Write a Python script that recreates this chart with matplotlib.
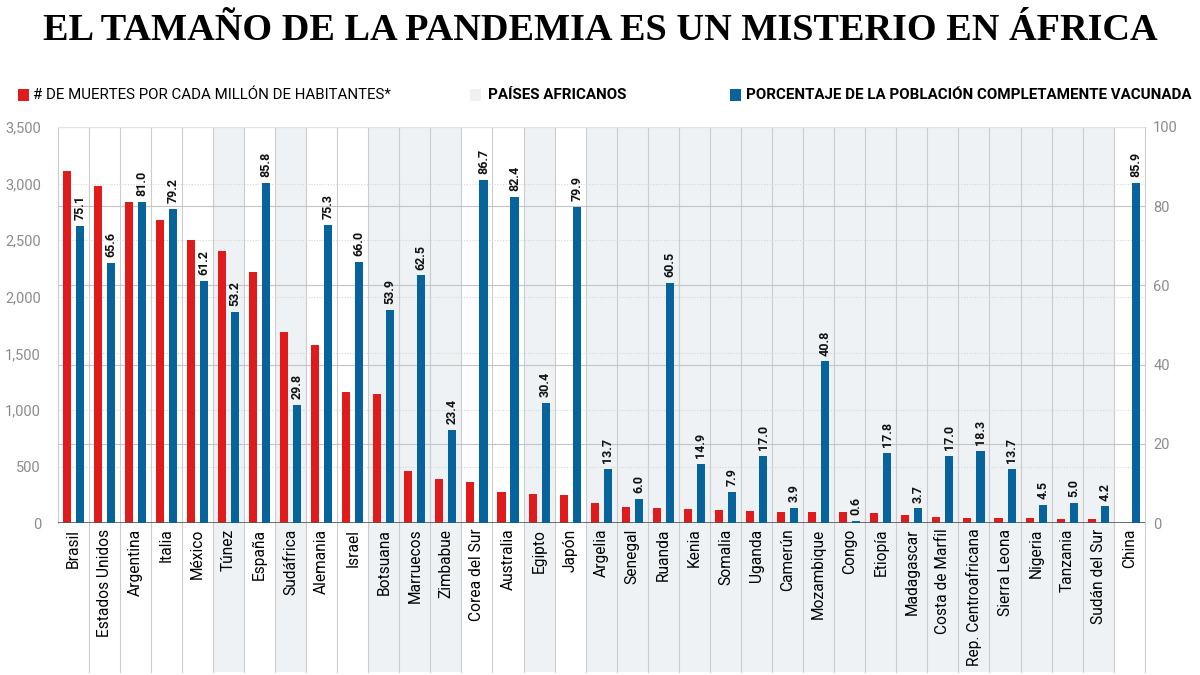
import matplotlib.pyplot as plt
import matplotlib.transforms as mtransforms
from matplotlib.patches import Rectangle
import numpy as np

# datos
paises = ['Brasil', 'Estados Unidos', 'Argentina', 'Italia', 'México', 'Túnez',
          'España', 'Sudáfrica', 'Alemania', 'Israel', 'Botsuana', 'Marruecos',
          'Zimbabue', 'Corea del Sur', 'Australia', 'Egipto', 'Japón', 'Argelia',
          'Senegal', 'Ruanda', 'Kenia', 'Somalia', 'Uganda', 'Camerún',
          'Mozambique', 'Congo', 'Etiopía', 'Madagascar', 'Costa de Marfil',
          'Rep. Centroafricana', 'Sierra Leona', 'Nigeria', 'Tanzania',
          'Sudán del Sur', 'China']

muertes = [3110, 2975, 2835, 2675, 2505, 2400, 2220, 1690, 1575, 1160, 1145,
           457, 387, 360, 273, 255, 248, 176, 141, 135, 129, 112, 103, 97,
           94, 94, 88, 76, 53, 47, 41, 41, 38, 38, 3]

vacunados = [75.1, 65.6, 81.0, 79.2, 61.2, 53.2, 85.8, 29.8, 75.3, 66.0, 53.9,
             62.5, 23.4, 86.7, 82.4, 30.4, 79.9, 13.7, 6.0, 60.5, 14.9, 7.9,
             17.0, 3.9, 40.8, 0.6, 17.8, 3.7, 17.0, 18.3, 13.7, 4.5, 5.0, 4.2,
             85.9]

africanos = ['Túnez', 'Sudáfrica', 'Botsuana', 'Marruecos', 'Zimbabue', 'Egipto',
             'Argelia', 'Senegal', 'Ruanda', 'Kenia', 'Somalia', 'Uganda',
             'Camerún', 'Mozambique', 'Congo', 'Etiopía', 'Madagascar',
             'Costa de Marfil', 'Rep. Centroafricana', 'Sierra Leona', 'Nigeria',
             'Tanzania', 'Sudán del Sur']

ROJO = '#e01b1b'
AZUL = '#06639b'
SOMBRA = '#eef2f4'
GRIS = '#8c8c8c'

plt.rcParams['font.family'] = ['Roboto', 'DejaVu Sans']

fig = plt.figure(figsize=(12, 6.75), dpi=100)
ax = fig.add_axes([0.048, 0.225, 0.906, 0.587])
ax2 = ax.twinx()

n = len(paises)
x = np.arange(n)
ax.set_xlim(-0.5, n - 0.5)
ax.set_ylim(0, 3500)
ax2.set_ylim(0, 100)

trans = mtransforms.blended_transform_factory(ax.transData, ax.transAxes)
fondo = -0.376  # bajo las etiquetas

# columnas de paises africanos
for i, p in enumerate(paises):
    if p in africanos:
        ax.add_patch(Rectangle((i - 0.5, fondo), 1, 1 - fondo, transform=trans,
                               color=SOMBRA, zorder=0, clip_on=False, lw=0))

# separadores verticales
for i in range(n + 1):
    y0 = 0 if i == 0 else fondo
    ax.plot([i - 0.5, i - 0.5], [y0, 1], transform=trans, color='#cccccc',
            lw=0.8, clip_on=False, zorder=1)

# rejilla: punteada para muertes, continua para porcentaje
for v in range(500, 3500, 500):
    ax.axhline(v, color='#d6d6d6', lw=0.8, ls=(0, (1, 1.5)), zorder=1)
for v in range(20, 100, 20):
    ax.axhline(v * 35, color='#c4c4c4', lw=0.8, zorder=1)
ax.axhline(3500, color='#e2e2e2', lw=1, zorder=1)

ax.bar(x - 0.21, muertes, width=0.26, color=ROJO, zorder=3)
ax2.bar(x + 0.21, vacunados, width=0.26, color=AZUL, zorder=3)
ax.axhline(0, color='#555555', lw=1.2, zorder=4)

for xi, v in zip(x, vacunados):
    ax2.text(xi + 0.21, v + 1.5, f'{v:.1f}', rotation=90, ha='center',
             va='bottom', fontsize=9, fontweight='bold', color='#111111')

ax.set_yticks(range(0, 3501, 500))
ax.set_yticklabels([f'{v:,}' for v in range(0, 3501, 500)])
ax.tick_params(axis='y', length=0, pad=12, labelsize=10.5, labelcolor=GRIS)
ax2.set_yticks(range(0, 101, 20))
ax2.tick_params(axis='y', length=0, pad=6, labelsize=10.5, labelcolor=GRIS)

ax.set_xticks(x)
ax.set_xticklabels(paises, rotation=90, fontsize=11.2)
ax.tick_params(axis='x', length=0, pad=4)

for a in (ax, ax2):
    for s in a.spines.values():
        s.set_visible(False)

# titulo
fig.text(0.5, 1 - 30 / 675, 'EL TAMAÑO DE LA PANDEMIA ES UN MISTERIO EN ÁFRICA',
         ha='center', va='center', fontsize=27.5, fontweight='bold',
         family=['Liberation Serif', 'DejaVu Serif'])

# leyenda
ly = 1 - 95 / 675
for px, col in [(18, ROJO), (470, '#eef0f2'), (730, AZUL)]:
    fig.add_artist(Rectangle((px / 1200, ly - 6 / 675), 11 / 1200, 12 / 675,
                             transform=fig.transFigure, color=col, lw=0))
fig.text(33 / 1200, ly, '# DE MUERTES POR CADA MILLÓN DE HABITANTES*',
         va='center', fontsize=10.8)
fig.text(488 / 1200, ly, 'PAÍSES AFRICANOS', va='center', fontsize=10.9,
         fontweight='bold')
fig.text(746 / 1200, ly, 'PORCENTAJE DE LA POBLACIÓN COMPLETAMENTE VACUNADA',
         va='center', fontsize=10.9, fontweight='bold')

fig.savefig('out.png', dpi=100)
